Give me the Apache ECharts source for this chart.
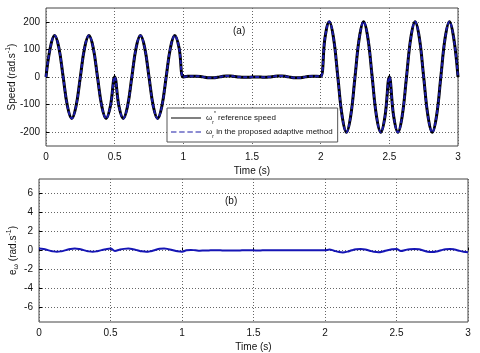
<!DOCTYPE html>
<html>
<head>
<meta charset="utf-8">
<script src="https://cdn.jsdelivr.net/npm/echarts@6/dist/echarts.min.js"></script>
<style>
  html, body { margin: 0; padding: 0; background: #fff; }
  #main { width: 480px; height: 353px; }
</style>
</head>
<body>
<div id="main"></div>
<script>
// sampled every 1/32 s from 0 to 3 s
const speedRef = [
  0, 106, 150, 106, 0, -106, -150, -106, 0, 106, 150, 106, 0, -106, -150, -106, 0,
  -106, -150, -106, 0, 106, 150, 106, 0, -106, -150, -106, 0, 106, 150, 106, 0,
  3, 3, 3, 2, -1, -3, -3, -1, 2, 4, 4, 2, 0, -1, -1, 0,
  0, 0, -1, 0, 2, 4, 4, 2, -1, -3, -3, -1, 2, 3, 3, 2,
  141, 200, 141, 0, -141, -200, -141, 0, 141, 200, 141, 0, -141, -200, -141, 0,
  -141, -200, -141, 0, 141, 200, 141, 0, -141, -200, -141, 0, 141, 200, 141, 0
]
const speedEst = [
  0, 106, 150, 106, 0, -106, -150, -106, 0, 106, 150, 106, 0, -106, -150, -106, 0,
  -106, -150, -106, 0, 106, 150, 106, 0, -106, -150, -106, 0, 106, 150, 106, 0,
  3, 3, 3, 2, -1, -3, -3, -1, 2, 4, 4, 2, 0, -1, -1, 0,
  0, 0, -1, 0, 2, 4, 4, 2, -1, -3, -3, -1, 2, 3, 3, 2,
  141, 200, 141, 0, -141, -200, -141, 0, 141, 200, 141, 0, -141, -200, -141, 0,
  -141, -200, -141, 0, 141, 200, 141, 0, -141, -200, -141, 0, 141, 200, 141, 0
]
const speedErr = [
  0.2, 0.15, 0.04, -0.08, -0.14, -0.08, 0.04, 0.15, 0.2, 0.15, 0.04, -0.08, -0.14, -0.08, 0.04, 0.14, 0.2,
  -0.04, 0.08, 0.17, 0.2, 0.14, 0.03, -0.09, -0.14, -0.07, 0.06, 0.18, 0.22, 0.14, 0.02, -0.08, -0.12,
  0.02, 0.06, 0.02, -0.02, 0, 0.01, 0.02, 0.02, 0.01, 0, 0, 0, 0.01, 0.03, 0.03, 0.02,
  0, 0.02, 0.03, 0.03, 0.03, 0.03, 0.03, 0.03, 0.03, 0.03, 0.03, 0.03, 0.03, 0.02, 0.02, 0.02,
  0.1, -0.02, -0.14, -0.2, -0.12, 0.02, 0.12, 0.15, 0.1, -0.02, -0.14, -0.18, -0.1, 0.03, 0.12, 0.17,
  -0.05, 0.06, 0.14, 0.17, 0.12, 0, -0.12, -0.16, -0.1, 0.03, 0.14, 0.17, 0.1, -0.02, -0.12, -0.18
]
const timeTicks = [0, 0.5, 1, 1.5, 2, 2.5, 3]
const speedTicks = [-200, -100, 0, 100, 200]
const errTicks = [-6, -4, -2, 0, 2, 4, 6]

const step = 1 / 32
const pairs = arr => arr.map((v, i) => [i * step, v])

const font = 'Liberation Sans, Arial, sans-serif'
const gridLine = { show: true, lineStyle: { color: '#666', type: [1, 2], width: 1 } }
const labelStyle = { color: '#111', fontSize: 10, fontFamily: font }

const xAxisBase = (gridIndex) => ({
  type: 'value', gridIndex, min: 0, max: 3,
  name: 'Time (s)', nameLocation: 'middle', nameGap: 20,
  nameTextStyle: { color: '#111', fontSize: 10, fontFamily: font },
  axisLine: { show: false },
  axisTick: { show: true, inside: true, length: 3, customValues: timeTicks, lineStyle: { color: '#000' } },
  axisLabel: Object.assign({ margin: 6, customValues: timeTicks }, labelStyle),
  splitLine: gridLine
})

const richName = {
  n: { fontSize: 10, fontFamily: font, color: '#111', lineHeight: 14 },
  sup: { fontSize: 7, fontFamily: font, color: '#111', lineHeight: 14, verticalAlign: 'top' },
  sub: { fontSize: 7, fontFamily: font, color: '#111', lineHeight: 14, verticalAlign: 'bottom' }
}

// legend line samples: solid bar and dashed bar
const solidIcon = 'path://M0,0h30v1h-30z'
const dashIcon = 'path://M0,0h5v1h-5z M7.5,0h5v1h-5z M15,0h5v1h-5z M22.5,0h5v1h-5z'

const myChart = echarts.init(document.getElementById('main'))
const option = {
  animation: false,
  backgroundColor: '#fff',
  grid: [
    { left: 46, right: 22, top: 8, height: 138, show: true, borderColor: '#444', borderWidth: 1,
      containLabel: false, outerBoundsMode: 'none' },
    { left: 39, right: 12, top: 179, height: 143, show: true, borderColor: '#444', borderWidth: 1,
      containLabel: false, outerBoundsMode: 'none' }
  ],
  xAxis: [xAxisBase(0), xAxisBase(1)],
  yAxis: [
    {
      type: 'value', gridIndex: 0, min: -250, max: 250,
      name: '{n|Speed (rad.s}{sup|-1}{n|)}', nameLocation: 'middle', nameRotate: 90, nameGap: 27,
      nameMoveOverlap: false,
      nameTextStyle: { rich: richName },
      axisLine: { show: false },
      axisTick: { show: true, inside: true, length: 3, customValues: speedTicks, lineStyle: { color: '#000' } },
      axisLabel: Object.assign({ margin: 6, customValues: speedTicks }, labelStyle),
      splitLine: gridLine
    },
    {
      type: 'value', gridIndex: 1, min: -7.5, max: 7.5,
      name: '{n|e}{sub|ω}{n| (rad.s}{sup|-1}{n|)}', nameLocation: 'middle', nameRotate: 90, nameGap: 19,
      nameMoveOverlap: false,
      nameTextStyle: { rich: richName },
      axisLine: { show: false },
      axisTick: { show: true, inside: true, length: 3, customValues: errTicks, lineStyle: { color: '#000' } },
      axisLabel: Object.assign({ margin: 6, customValues: errTicks }, labelStyle),
      splitLine: gridLine
    }
  ],
  legend: {
    left: 167, top: 108, orient: 'vertical',
    data: [
      { name: 'ref', icon: solidIcon, itemStyle: { color: '#000', opacity: 1 } },
      { name: 'est', icon: dashIcon, itemStyle: { color: '#1c1ca8', opacity: 1 } }
    ],
    backgroundColor: '#fff', borderColor: '#555', borderWidth: 1,
    padding: [3, 5, 3, 4], itemGap: 3, itemWidth: 30, itemHeight: 3,
    formatter: name => name === 'ref'
      ? '{n|ω}{sub|r}{sup|*}{n| reference speed}'
      : '{n|ω}{sub|r}{n| in the proposed adaptive method}',
    textStyle: {
      rich: {
        n: { fontSize: 8, fontFamily: font, color: '#111', lineHeight: 14 },
        sub: { fontSize: 5, fontFamily: font, color: '#111', lineHeight: 14, verticalAlign: 'bottom' },
        sup: { fontSize: 5, fontFamily: font, color: '#111', lineHeight: 14, verticalAlign: 'top' }
      }
    }
  },
  graphic: [
    { type: 'text', left: 233, top: 26, style: { text: '(a)', fontSize: 10, fontFamily: font, fill: '#111' } },
    { type: 'text', left: 225, top: 196, style: { text: '(b)', fontSize: 10, fontFamily: font, fill: '#111' } }
  ],
  series: [
    {
      name: 'ref', type: 'line', xAxisIndex: 0, yAxisIndex: 0,
      data: pairs(speedRef), showSymbol: false, symbol: 'none', smooth: 0.4,
      lineStyle: { color: '#000', width: 3 }, itemStyle: { color: '#000' }
    },
    {
      name: 'est', type: 'line', xAxisIndex: 0, yAxisIndex: 0,
      data: pairs(speedEst), showSymbol: false, symbol: 'none', smooth: 0.4,
      lineStyle: { color: '#1c1ca8', width: 2, type: [4, 2] }, itemStyle: { color: '#1c1ca8' }
    },
    {
      name: 'err', type: 'line', xAxisIndex: 1, yAxisIndex: 1,
      data: pairs(speedErr), showSymbol: false, symbol: 'none', smooth: 0.4,
      lineStyle: { color: '#1515b5', width: 2 }, itemStyle: { color: '#1515b5' }
    }
  ]
}
myChart.setOption(option)
</script>
</body>
</html>
